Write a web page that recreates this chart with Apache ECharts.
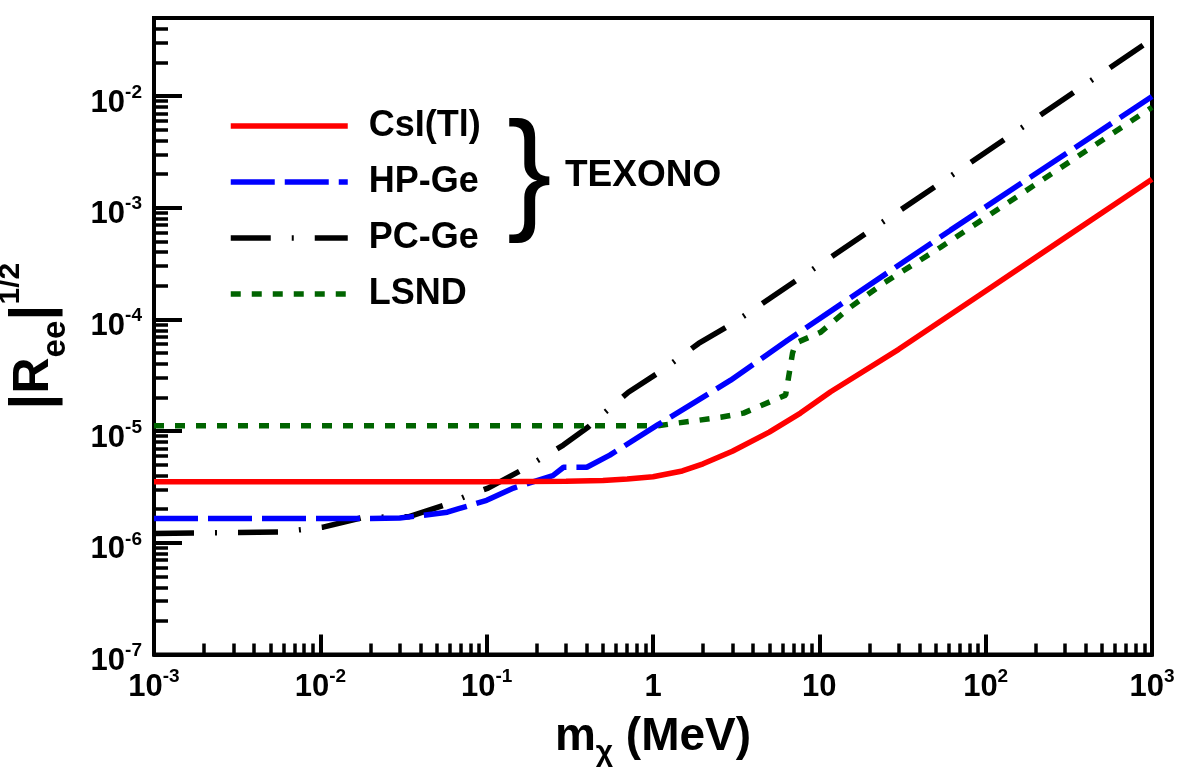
<!DOCTYPE html>
<html>
<head>
<meta charset="utf-8">
<title>|Ree|^1/2 limits</title>
<script src="https://cdn.jsdelivr.net/npm/echarts@6/dist/echarts.min.js"></script>
<style>
html, body { margin: 0; padding: 0; background: #fff; }
#chart { width: 1182px; height: 771px; }
</style>
</head>
<body>
<div id="chart"></div>
<script>
// m_chi (MeV) and |Ree|^(1/2)
var csiX = [0.001, 0.01, 0.1, 0.3, 0.5, 0.7, 1, 1.5, 2, 3, 5, 7.7, 11.7, 30, 100, 300, 1000];
var csiY = [3.52e-6, 3.52e-6, 3.52e-6, 3.55e-6, 3.62e-6, 3.72e-6, 3.9e-6, 4.4e-6, 5.1e-6, 6.6e-6, 9.8e-6, 1.45e-5, 2.25e-5, 5.4e-5, 1.8e-4, 5.4e-4, 1.8e-3];

var hpgeX = [0.001, 0.01, 0.02, 0.03, 0.04, 0.058, 0.068, 0.1, 0.145, 0.25, 0.29, 0.4, 0.55, 1.06, 2.93, 6.44, 61.5, 1000];
var hpgeY = [1.65e-6, 1.65e-6, 1.65e-6, 1.67e-6, 1.75e-6, 1.88e-6, 2.02e-6, 2.4e-6, 3.09e-6, 4.0e-6, 4.75e-6, 4.75e-6, 6.1e-6, 1.13e-5, 2.86e-5, 6.5e-5, 6.3e-4, 9.9e-3];

var pcgeX = [0.001, 0.0057, 0.0104, 0.0181, 0.0338, 0.058, 0.0775, 0.102, 0.171, 0.219, 0.289, 0.408, 0.438, 0.711, 1.14, 1.88, 3.05, 59, 1000];
var pcgeY = [1.21e-6, 1.25e-6, 1.38e-6, 1.69e-6, 1.71e-6, 2.22e-6, 2.67e-6, 3.09e-6, 4.67e-6, 5.85e-6, 7.5e-6, 1.09e-5, 1.2e-5, 2.23e-5, 3.52e-5, 6.1e-5, 9.3e-5, 1.84e-3, 3.23e-2];

var lsndX = [0.001, 0.1, 1.06, 1.4, 2.55, 3.5, 5.85, 6.27, 6.9, 7.2, 10.2, 15.4, 24.3, 53.6, 1000];
var lsndY = [1.115e-5, 1.115e-5, 1.115e-5, 1.18e-5, 1.33e-5, 1.45e-5, 2.01e-5, 2.1e-5, 4.99e-5, 6.14e-5, 7.7e-5, 1.29e-4, 2.11e-4, 4.43e-4, 7.94e-3];

var seriesNames = ['CsI(Tl)', 'HP-Ge', 'PC-Ge', 'LSND'];

// axis ranges
var xMin = 1e-3, xMax = 1e3;
var yMin = 1e-7, yMax = 0.05;

function pairs(xs, ys) {
	return xs.map(function (x, i) { return [x, ys[i]]; });
}

// minor ticks at 2..9 x 10^n, in log10 units for the helper axes
function minorTicks(lo, hi) {
	var out = [];
	for (var n = Math.floor(Math.log10(lo)); n < Math.ceil(Math.log10(hi)); n++) {
		for (var k = 2; k <= 9; k++) {
			var v = n + Math.log10(k);
			if (v >= Math.log10(lo) && v <= Math.log10(hi)) out.push(v);
		}
	}
	return out;
}

function powLabel(v) {
	var l = Math.log10(v);
	var p = Math.round(l);
	if (Math.abs(l - p) > 1e-6) return '';
	if (p === 0) return '{b|1}';
	if (p === 1) return '{b|10}';
	return '{b|10}{e|' + p + '}';
}

var FONT = 'Liberation Sans, Arial, sans-serif';

var labelRich = {
	b: { fontSize: 31, fontWeight: 'bold', fontFamily: FONT, color: '#000', lineHeight: 40 },
	e: { fontSize: 19, fontWeight: 'bold', fontFamily: FONT, color: '#000', lineHeight: 19, verticalAlign: 'top' }
};

var chart = echarts.init(document.getElementById('chart'), null, { renderer: 'canvas' });

var option = {
	backgroundColor: '#fff',
	animation: false,
	grid: {
		left: 154,
		right: 30,
		top: 18,
		bottom: 116.5,
		show: true,
		borderColor: '#000',
		borderWidth: 4,
		outerBoundsMode: 'none'
	},
	legend: {
		orient: 'vertical',
		left: 228,
		top: 106,
		padding: 0,
		itemWidth: 117,
		itemHeight: 14,
		itemGap: 16,
		data: seriesNames,
		itemStyle: { opacity: 0 },
		lineStyle: { width: 5.5 },
		textStyle: {
			fontSize: 36,
			fontWeight: 'bold',
			fontFamily: FONT,
			color: '#000',
			lineHeight: 40,
			padding: [0, 0, 0, 16]
		}
	},
	xAxis: [
		{
			type: 'log',
			min: xMin,
			max: xMax,
			position: 'bottom',
			name: '{m|m}{s|χ}{m| (MeV)}',
			nameLocation: 'middle',
			nameGap: 53,
			nameTextStyle: {
				rich: {
					m: { fontSize: 46, fontWeight: 'bold', fontFamily: FONT, color: '#000', lineHeight: 60 },
					s: { fontSize: 30, fontWeight: 'bold', fontFamily: FONT, color: '#000', lineHeight: 48, verticalAlign: 'bottom' }
				}
			},
			axisLine: { show: true, onZero: false, lineStyle: { color: '#000', width: 4 } },
			axisTick: { show: true, inside: true, length: 20, lineStyle: { color: '#000', width: 4 } },
			axisLabel: { margin: 13, formatter: powLabel, rich: labelRich },
			splitLine: { show: false }
		},
		{
			type: 'value',
			min: Math.log10(xMin),
			max: Math.log10(xMax),
			position: 'bottom',
			axisLine: { show: false, onZero: false },
			axisLabel: { show: false },
			splitLine: { show: false },
			axisTick: { show: true, inside: true, length: 11, customValues: minorTicks(xMin, xMax), lineStyle: { color: '#000', width: 3.5 } }
		}
	],
	yAxis: [
		{
			type: 'log',
			min: yMin,
			max: yMax,
			position: 'left',
			name: '{bar||}{r|R}{s|ee}{bar||}{p|1/2}',
			nameLocation: 'middle',
			nameRotate: 90,
			nameGap: 82,
			nameTextStyle: {
				rich: {
					bar: { fontSize: 58, fontWeight: 'bold', fontFamily: FONT, color: '#000', lineHeight: 76 },
					r: { fontSize: 50, fontWeight: 'bold', fontFamily: FONT, color: '#000', lineHeight: 76 },
					s: { fontSize: 33, fontWeight: 'bold', fontFamily: FONT, color: '#000', lineHeight: 22, verticalAlign: 'bottom' },
					p: { fontSize: 30, fontWeight: 'bold', fontFamily: FONT, color: '#000', lineHeight: 36, verticalAlign: 'top' }
				}
			},
			axisLine: { show: true, onZero: false, lineStyle: { color: '#000', width: 4 } },
			axisTick: { show: true, inside: true, length: 28, lineStyle: { color: '#000', width: 4 } },
			axisLabel: { margin: 12, formatter: powLabel, rich: labelRich, padding: [14, 0, 0, 0] },
			splitLine: { show: false }
		},
		{
			type: 'value',
			min: Math.log10(yMin),
			max: Math.log10(yMax),
			position: 'left',
			axisLine: { show: false, onZero: false },
			axisLabel: { show: false },
			splitLine: { show: false },
			axisTick: { show: true, inside: true, length: 14, customValues: minorTicks(yMin, yMax), lineStyle: { color: '#000', width: 3.5 } }
		}
	],
	graphic: [
		{
			type: 'text',
			left: 507,
			top: 111,
			style: { text: '}', font: 'normal 134px ' + FONT, fill: '#000' }
		},
		{
			type: 'text',
			left: 565,
			top: 157,
			style: { text: 'TEXONO', font: 'bold 37px ' + FONT, fill: '#000' }
		}
	],
	series: [
		{
			name: 'CsI(Tl)',
			type: 'line',
			data: pairs(csiX, csiY),
			showSymbol: false,
			symbol: 'none',
			z: 4,
			lineStyle: { color: '#ff0000', width: 5.5, type: 'solid' },
			itemStyle: { color: '#ff0000' }
		},
		{
			name: 'HP-Ge',
			type: 'line',
			data: pairs(hpgeX, hpgeY),
			showSymbol: false,
			symbol: 'none',
			z: 3,
			lineStyle: { color: '#0000ff', width: 5.5, type: [44, 10] },
			itemStyle: { color: '#0000ff' }
		},
		{
			name: 'PC-Ge',
			type: 'line',
			data: pairs(pcgeX, pcgeY),
			showSymbol: false,
			symbol: 'none',
			z: 2,
			lineStyle: { color: '#000000', width: 5.5, type: [40, 21, 2, 21] },
			itemStyle: { color: '#000000' }
		},
		{
			name: 'LSND',
			type: 'line',
			data: pairs(lsndX, lsndY),
			showSymbol: false,
			symbol: 'none',
			z: 2,
			lineStyle: { color: '#006400', width: 5.5, type: [10, 11] },
			itemStyle: { color: '#006400' }
		}
	]
};

chart.setOption(option);
</script>
</body>
</html>
